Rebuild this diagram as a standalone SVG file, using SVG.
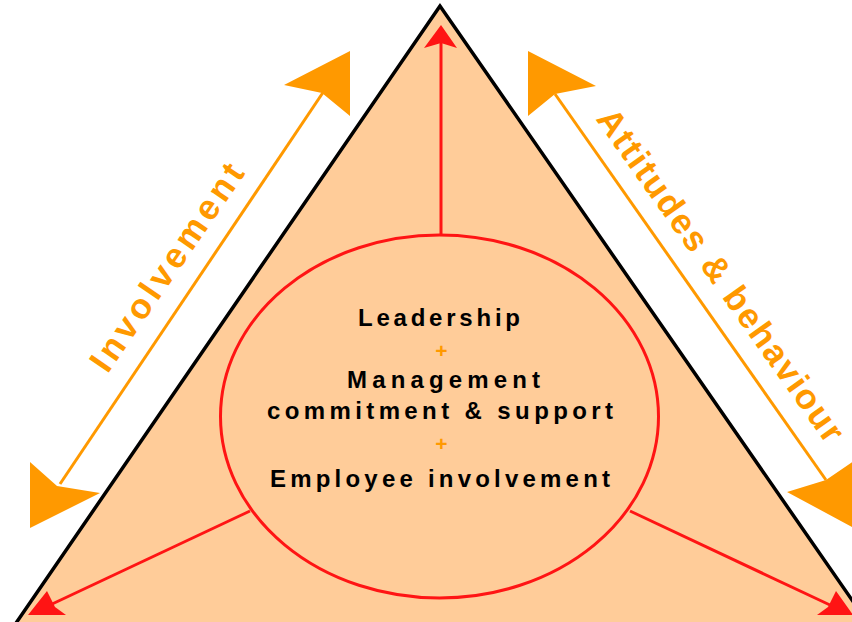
<svg xmlns="http://www.w3.org/2000/svg" width="852" height="622" viewBox="0 0 852 622">
<style>
.red{stroke:#FF1414;stroke-width:3;fill:none}
.redf{fill:#FF1414;stroke:none}
.or{stroke:#FF9900;stroke-width:3;fill:none}
.orf{fill:#FF9900;stroke:none}
.ctext{font-family:"Liberation Sans",Arial,sans-serif;font-weight:bold;font-size:24px;fill:#000;text-anchor:middle}
.plus{font-family:"Liberation Sans",Arial,sans-serif;font-weight:bold;font-size:21px;fill:#FF9900;text-anchor:middle}
.side{font-family:"Liberation Sans",Arial,sans-serif;font-weight:bold;font-size:35px;fill:#FF9900;text-anchor:middle}
</style>
<rect width="852" height="622" fill="#FFFFFF"/>
<g id="triangle">
<polygon points="440,6 14,626 870,626" fill="#FFCC99" stroke="#000" stroke-width="3.5" stroke-linejoin="miter"/>
</g>
<g id="core">
<ellipse cx="439.5" cy="416.5" rx="219" ry="181.5" class="red"/>
<text class="ctext" x="439" y="326" textLength="162" lengthAdjust="spacing">Leadership</text>
<text class="plus" x="441.5" y="358">+</text>
<text class="ctext" x="443.5" y="388" textLength="193" lengthAdjust="spacing">Management</text>
<text class="ctext" x="440" y="419" textLength="346" lengthAdjust="spacing">commitment &amp; support</text>
<text class="plus" x="441.5" y="451">+</text>
<text class="ctext" x="440" y="487" textLength="340" lengthAdjust="spacing">Employee involvement</text>
</g>
<g id="involvement-label">
<text class="side" transform="translate(176.5,274) rotate(-55.5)" x="0" y="0" textLength="244" lengthAdjust="spacing">Involvement</text>
</g>
<g id="attitudes-label">
<text class="side" transform="translate(711,282) rotate(54.6)" x="0" y="0" textLength="400" lengthAdjust="spacing">Attitudes &amp; behaviour</text>
</g>
<g id="connectors">
<line class="red" x1="441" y1="235" x2="441" y2="42"/>
<polygon class="redf" points="441,25 457,48 441,43 424,48"/>
<line class="red" x1="250" y1="511" x2="50" y2="605"/>
<polygon class="redf" points="28,615 66,615 55,607 47,591"/>
<line class="red" x1="630" y1="511" x2="830" y2="605"/>
<polygon class="redf" points="853,615 817,615 828,607 836,591"/>
<line class="or" x1="60" y1="484" x2="324" y2="91"/>
<polygon class="orf" points="350,51 350,116 322,93 284,85"/>
<polygon class="orf" points="30,462 57,486 100,493 30,528"/>
<line class="or" x1="555" y1="94" x2="826" y2="480"/>
<polygon class="orf" points="528,51 528,116 555,94 596,86"/>
<polygon class="orf" points="854,461 826,480 787,492 854,528"/>
</g>
</svg>
